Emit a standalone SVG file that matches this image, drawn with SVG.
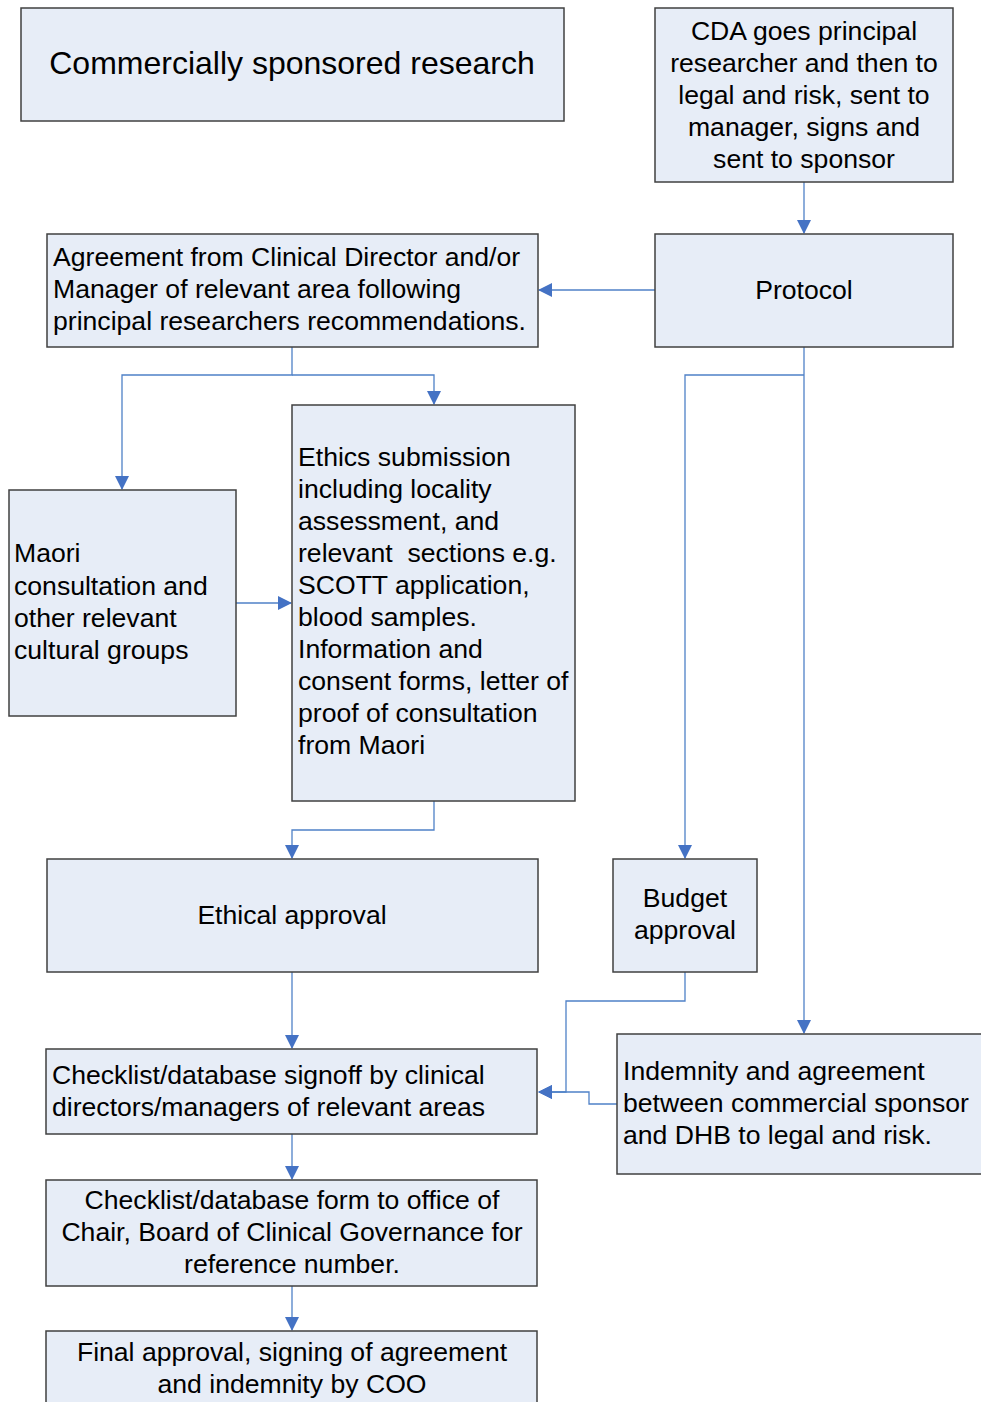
<svg xmlns="http://www.w3.org/2000/svg" width="981" height="1402" viewBox="0 0 981 1402">
<style>
.box{fill:#e7edf7;stroke:#404040;stroke-width:1.5}
.t{font-family:"Liberation Sans",Arial,sans-serif;font-size:26.6px;fill:#000}
.c{text-anchor:middle}
.ln{fill:none;stroke:#4f81c7;stroke-width:1.3}
</style>
<defs>
<marker id="ah" markerWidth="14" markerHeight="14" refX="13" refY="7" orient="auto" markerUnits="userSpaceOnUse">
<path d="M0,0 L14,7 L0,14 Z" fill="#4472c4"/>
</marker>
</defs>
<rect width="981" height="1402" fill="#fff"/>
<g id="connectors">
<path class="ln" d="M804,182 V233" marker-end="url(#ah)"/>
<path class="ln" d="M655,290 H539" marker-end="url(#ah)"/>
<path class="ln" d="M292,347 V375 H122 V489" marker-end="url(#ah)"/>
<path class="ln" d="M292,375 H434 V404" marker-end="url(#ah)"/>
<path class="ln" d="M236,603 H291" marker-end="url(#ah)"/>
<path class="ln" d="M434,801 V830 H292 V858" marker-end="url(#ah)"/>
<path class="ln" d="M804,347 V1033" marker-end="url(#ah)"/>
<path class="ln" d="M804,375 H685 V858" marker-end="url(#ah)"/>
<path class="ln" d="M292,972 V1048" marker-end="url(#ah)"/>
<path class="ln" d="M685,972 V1001 H566 V1092 H539" marker-end="url(#ah)"/>
<path class="ln" d="M617,1104 H589 V1092 H539" marker-end="url(#ah)"/>
<path class="ln" d="M292,1134 V1179" marker-end="url(#ah)"/>
<path class="ln" d="M292,1286 V1330" marker-end="url(#ah)"/>
</g>
<g id="n-commercial">
<rect class="box" x="21" y="8" width="543" height="113"/>
<text class="t c" x="292" y="74" style="font-size:32px">Commercially sponsored research</text>
</g>
<g id="n-cda">
<rect class="box" x="655" y="8" width="298" height="174"/>
<text class="t c" x="804" y="40">CDA goes principal</text>
<text class="t c" x="804" y="72">researcher and then to</text>
<text class="t c" x="804" y="104">legal and risk, sent to</text>
<text class="t c" x="804" y="136">manager, signs and</text>
<text class="t c" x="804" y="168">sent to sponsor</text>
</g>
<g id="n-protocol">
<rect class="box" x="655" y="234" width="298" height="113"/>
<text class="t c" x="804" y="299">Protocol</text>
</g>
<g id="n-agreement">
<rect class="box" x="47" y="234" width="491" height="113"/>
<text class="t" x="53" y="266">Agreement from Clinical Director and/or</text>
<text class="t" x="53" y="298">Manager of relevant area following</text>
<text class="t" x="53" y="330">principal researchers recommendations.</text>
</g>
<g id="n-maori">
<rect class="box" x="9" y="490" width="227" height="226"/>
<text class="t" x="14" y="562">Maori</text>
<text class="t" x="14" y="595">consultation and</text>
<text class="t" x="14" y="627">other relevant</text>
<text class="t" x="14" y="659">cultural groups</text>
</g>
<g id="n-ethics">
<rect class="box" x="292" y="405" width="283" height="396"/>
<text class="t" x="298" y="466">Ethics submission</text>
<text class="t" x="298" y="498">including locality</text>
<text class="t" x="298" y="530">assessment, and</text>
<text class="t" x="298" y="562" xml:space="preserve">relevant  sections e.g.</text>
<text class="t" x="298" y="594">SCOTT application,</text>
<text class="t" x="298" y="626">blood samples.</text>
<text class="t" x="298" y="658">Information and</text>
<text class="t" x="298" y="690">consent forms, letter of</text>
<text class="t" x="298" y="722">proof of consultation</text>
<text class="t" x="298" y="754">from Maori</text>
</g>
<g id="n-ethical">
<rect class="box" x="47" y="859" width="491" height="113"/>
<text class="t c" x="292" y="924">Ethical approval</text>
</g>
<g id="n-budget">
<rect class="box" x="613" y="859" width="144" height="113"/>
<text class="t c" x="685" y="907">Budget</text>
<text class="t c" x="685" y="939">approval</text>
</g>
<g id="n-checklist">
<rect class="box" x="46" y="1049" width="491" height="85"/>
<text class="t" x="52" y="1084">Checklist/database signoff by clinical</text>
<text class="t" x="52" y="1116">directors/managers of relevant areas</text>
</g>
<g id="n-indemnity">
<rect class="box" x="617" y="1034" width="372" height="140"/>
<text class="t" x="623" y="1080">Indemnity and agreement</text>
<text class="t" x="623" y="1112">between commercial sponsor</text>
<text class="t" x="623" y="1144">and DHB to legal and risk.</text>
</g>
<g id="n-form">
<rect class="box" x="46" y="1180" width="491" height="106"/>
<text class="t c" x="292" y="1209">Checklist/database form to office of</text>
<text class="t c" x="292" y="1241">Chair, Board of Clinical Governance for</text>
<text class="t c" x="292" y="1273">reference number.</text>
</g>
<g id="n-final">
<rect class="box" x="46" y="1331" width="491" height="90"/>
<text class="t c" x="292" y="1361">Final approval, signing of agreement</text>
<text class="t c" x="292" y="1393">and indemnity by COO</text>
</g>
</svg>
